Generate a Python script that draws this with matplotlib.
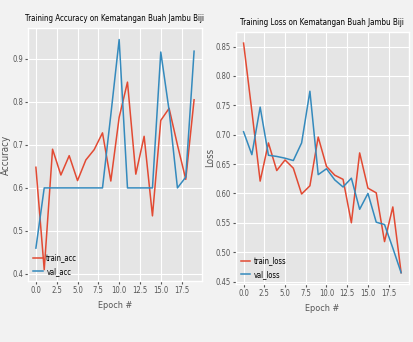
import matplotlib
matplotlib.use('Agg')
import matplotlib.pyplot as plt
from matplotlib import font_manager
from matplotlib.ticker import MultipleLocator

# values
epochs = list(range(20))
train_acc = [0.648, 0.41, 0.69, 0.63, 0.675, 0.617, 0.665, 0.689, 0.728, 0.616,
             0.764, 0.846, 0.632, 0.72, 0.535, 0.757, 0.785, 0.70, 0.62, 0.805]
val_acc = [0.46, 0.60, 0.60, 0.60, 0.60, 0.60, 0.60, 0.60, 0.60, 0.77,
           0.945, 0.60, 0.60, 0.60, 0.60, 0.916, 0.78, 0.60, 0.625, 0.918]
train_loss = [0.856, 0.74, 0.621, 0.686, 0.639, 0.657, 0.643, 0.599, 0.613, 0.696,
              0.646, 0.631, 0.624, 0.55, 0.669, 0.609, 0.601, 0.518, 0.577, 0.465]
val_loss = [0.705, 0.666, 0.747, 0.665, 0.663, 0.660, 0.656, 0.686, 0.774, 0.632,
            0.642, 0.623, 0.611, 0.626, 0.573, 0.600, 0.551, 0.547, 0.507, 0.465]

plt.style.use('ggplot')

# the reference text is squeezed sideways, so use a narrow sans face if one exists
narrow = None
rank = 99
for f in font_manager.fontManager.ttflist:
    if 'Sans' not in f.name or 'Mono' in f.name or 'Serif' in f.name or 'CJK' in f.name:
        continue
    if f.style != 'normal' or f.weight not in (400, 'normal', 'regular'):
        continue
    if not ('Narrow' in f.name or 'Condensed' in f.name or f.stretch in ('condensed', 'semi-condensed')):
        continue
    r = 0 if 'Liberation' in f.name else (1 if 'Noto' in f.name else 2)
    if r < rank:
        rank, narrow = r, f
if narrow is not None:
    plt.rcParams['font.family'] = [narrow.name, 'DejaVu Sans']
    plt.rcParams['font.stretch'] = narrow.stretch

fig = plt.figure(figsize=(4.14, 3.42), dpi=100)
fig.patch.set_facecolor('#f2f2f2')

ax1 = fig.add_axes([0.0676, 0.178, 0.4203, 0.740])
ax1.plot(epochs, train_acc, label='train_acc', lw=1.1)
ax1.plot(epochs, val_acc, label='val_acc', lw=1.1)
t1 = ax1.set_title('Training Accuracy on Kematangan Buah Jambu Biji', fontsize=8, pad=5)
ax1.set_xlabel('Epoch #', fontsize=6.5, labelpad=4)
ax1.set_ylabel('Accuracy', fontsize=7)
ax1.yaxis.set_label_coords(-0.1, 0.5)
ax1.set_yticks([0.4, 0.5, 0.6, 0.7, 0.8, 0.9])
ax1.xaxis.set_major_locator(MultipleLocator(2.5))
ax1.tick_params(labelsize=5.5, length=2, pad=1.5)
ax1.legend(loc='lower left', fontsize=5.5, frameon=False, handlelength=1.2,
           handletextpad=0.5, borderaxespad=0.3, labelspacing=0.6)

ax2 = fig.add_axes([0.5693, 0.169, 0.4186, 0.7386])
ax2.plot(epochs, train_loss, label='train_loss', lw=1.1)
ax2.plot(epochs, val_loss, label='val_loss', lw=1.1)
t2 = ax2.set_title('Training Loss on Kematangan Buah Jambu Biji', fontsize=8, pad=5)
ax2.set_xlabel('Epoch #', fontsize=6.5, labelpad=4)
ax2.set_ylabel('Loss', fontsize=7)
ax2.yaxis.set_label_coords(-0.12, 0.5)
ax2.xaxis.set_major_locator(MultipleLocator(2.5))
ax2.tick_params(labelsize=5.5, length=2, pad=1.5)
ax2.legend(loc='lower left', fontsize=5.5, frameon=False, handlelength=1.2,
           handletextpad=0.5, borderaxespad=0.3, labelspacing=0.6)

# shrink titles to the widths they have in the reference
fig.canvas.draw()
for t, target in ((t1, 178), (t2, 164)):
    w = t.get_window_extent().width
    if w > target:
        t.set_fontsize(t.get_fontsize() * target / w)

fig.savefig('out.png', dpi=100, facecolor=fig.get_facecolor())
